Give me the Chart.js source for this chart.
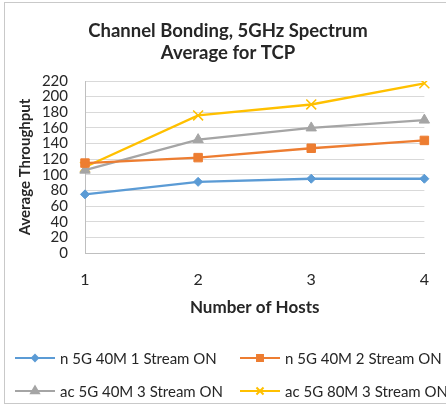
<!DOCTYPE html>
<html>
<head>
<meta charset="utf-8">
<script src="https://cdn.jsdelivr.net/npm/chart.js@4/dist/chart.umd.min.js"></script>
<style>
  html, body { margin: 0; padding: 0; background: #fff; }
  #wrap { position: relative; width: 446px; height: 408px; }
  #frame { position: absolute; left: 4px; top: 2px; width: 460px; height: 402px;
           border: 1px solid #c9c9c9; box-sizing: border-box; pointer-events: none; }
  canvas { display: block; }
</style>
</head>
<body>
<div id="wrap">
  <canvas id="chart" width="446" height="408"></canvas>
  <div id="frame"></div>
</div>
<script>
// Throughput per number of hosts, by wireless configuration
const hosts = ['1', '2', '3', '4'];
const n40m1 = [75, 91, 95, 95];
const n40m2 = [115, 122, 134, 144];
const ac40m3 = [106, 145, 160, 170];
const ac80m3 = [110, 176, 190, 217];
const seriesNames = ['n 5G 40M 1 Stream ON', 'n 5G 40M 2 Stream ON', 'ac 5G 40M 3 Stream ON', 'ac 5G 80M 3 Stream ON'];
const titleLines = ['Channel Bonding, 5GHz Spectrum', 'Average for TCP'];

const FONT = 'Lato, "Open Sans", sans-serif';
const TEXT = '#262626';

function series(label, data, color, style, radius, legendRadius) {
  return {
    label, data,
    borderColor: color, backgroundColor: color,
    borderWidth: 2.4,
    pointStyle: style, pointRadius: radius, pointHoverRadius: radius,
    pointBorderWidth: style === 'crossRot' ? 1.5 : 1,
    legendRadius,
    tension: 0
  };
}

const datasets = [
  series(seriesNames[0], n40m1, '#5B9BD5', 'rectRot', 4.5, 3),
  series(seriesNames[1], n40m2, '#ED7D31', 'rect', 6, 4.2),
  series(seriesNames[2], ac40m3, '#A5A5A5', 'triangle', 6, 4.5),
  series(seriesNames[3], ac80m3, '#FFC000', 'crossRot', 7, 5)
];

// Chart heading and the two-column legend beneath the axis title
const decorations = {
  id: 'decorations',
  afterDraw(chart) {
    const ctx = chart.ctx;
    ctx.save();
    ctx.fillStyle = TEXT;
    ctx.font = 'bold 18.5px ' + FONT;
    ctx.textAlign = 'center';
    ctx.textBaseline = 'middle';
    titleLines.forEach((t, i) => ctx.fillText(t, 228, 31 + i * 22.5));

    const cols = [15, 240], rows = [358, 391];
    chart.data.datasets.forEach((ds, i) => {
      const x0 = cols[i % 2], y = rows[Math.floor(i / 2)];
      ctx.strokeStyle = ds.borderColor;
      ctx.lineWidth = 2;
      ctx.beginPath();
      ctx.moveTo(x0, y);
      ctx.lineTo(x0 + 40, y);
      ctx.stroke();
      ctx.fillStyle = ds.backgroundColor;
      Chart.helpers.drawPoint(ctx, {
        pointStyle: ds.pointStyle,
        rotation: 0,
        radius: ds.legendRadius,
        borderWidth: ds.pointBorderWidth
      }, x0 + 20, y);
      ctx.fillStyle = TEXT;
      ctx.font = '15px ' + FONT;
      ctx.textAlign = 'left';
      ctx.textBaseline = 'middle';
      ctx.fillText(ds.label, x0 + 45, y + 1);
    });
    ctx.restore();
  }
};

new Chart(document.getElementById('chart'), {
  type: 'line',
  data: { labels: hosts, datasets },
  options: {
    responsive: false,
    animation: false,
    layout: { padding: { left: 0, right: 14, top: 81, bottom: 85 } },
    plugins: { legend: { display: false }, title: { display: false }, tooltip: { enabled: false } },
    scales: {
      x: {
        type: 'category',
        offset: false,
        grid: { display: false, drawTicks: false },
        border: { display: true, color: '#bfbfbf', width: 1 },
        ticks: { padding: 17, color: TEXT, font: { family: FONT, size: 16 }, maxRotation: 0 },
        title: { display: true, text: 'Number of Hosts', color: TEXT,
                 font: { family: FONT, size: 17, weight: 'bold' }, padding: { top: 0, bottom: 5 } },
        afterFit(scale) { scale.height = 70; }
      },
      y: {
        min: 0, max: 220,
        grid: { color: '#d9d9d9', lineWidth: 1, drawTicks: false },
        border: { display: true, color: '#bfbfbf', width: 1 },
        ticks: { stepSize: 20, autoSkip: false, padding: 17, color: TEXT, font: { family: FONT, size: 15 } },
        title: { display: true, text: 'Average Throughput', color: TEXT,
                 font: { family: FONT, size: 15, weight: 'bold' }, padding: { top: 16, bottom: 0 } },
        afterFit(scale) { scale.width = 85; }
      }
    }
  },
  plugins: [decorations]
});
</script>
</body>
</html>
